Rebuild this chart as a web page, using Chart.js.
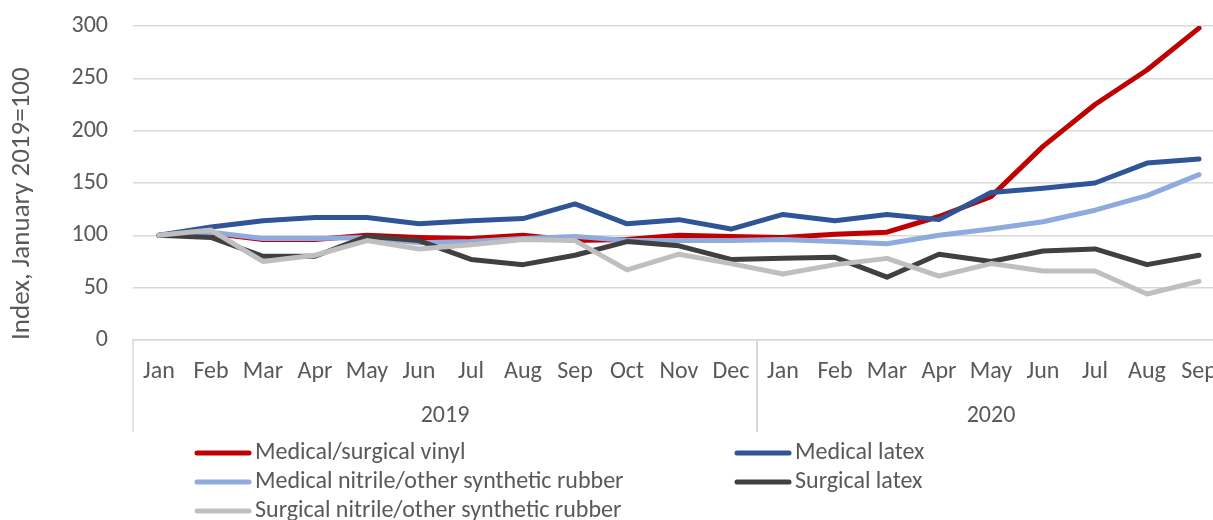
<!DOCTYPE html>
<html>
<head>
<meta charset="utf-8">
<script src="https://cdn.jsdelivr.net/npm/chart.js@4.4.1/dist/chart.umd.min.js"></script>
<style>
  html, body { margin: 0; padding: 0; background: #fff; overflow: hidden; }
  #wrap { position: relative; width: 1230px; height: 560px; }
</style>
</head>
<body>
<div id="wrap"><canvas id="glove-chart"></canvas></div>
<script>
// categorias (meses) e grupos de anos
const months = ["Jan", "Feb", "Mar", "Apr", "May", "Jun", "Jul", "Aug", "Sep", "Oct", "Nov", "Dec",
                "Jan", "Feb", "Mar", "Apr", "May", "Jun", "Jul", "Aug", "Sep"];
const years = ["2019", "2020"];
const yearCounts = [12, 9];

// series (indice, janeiro 2019 = 100)
const vinyl = [100, 102, 96, 96, 100, 98, 97, 100, 95, 96, 100, 99, 98, 101, 103, 118, 137, 185, 225, 258, 298];
const medLatex = [100, 108, 114, 117, 117, 111, 114, 116, 130, 111, 115, 106, 120, 114, 120, 115, 141, 145, 150, 169, 173];
const medNitrile = [100, 103, 97, 97, 98, 93, 94, 97, 99, 95, 95, 95, 96, 94, 92, 100, 106, 113, 124, 138, 158];
const surgLatex = [100, 98, 80, 80, 99, 95, 77, 72, 81, 94, 90, 77, 78, 79, 60, 82, 75, 85, 87, 72, 81];
const surgNitrile = [100, 105, 75, 81, 95, 87, 91, 96, 95, 67, 82, 73, 63, 72, 78, 61, 73, 66, 66, 44, 56];

const seriesNames = ["Medical/surgical vinyl", "Medical latex", "Medical nitrile/other synthetic rubber",
                     "Surgical latex", "Surgical nitrile/other synthetic rubber"];
const seriesColors = ["#C00000", "#2F5597", "#8FAADC", "#404040", "#BFBFBF"];
const yTicks = [0, 50, 100, 150, 200, 250, 300];

const fontFamily = "Carlito, 'Liberation Sans', sans-serif";
const fontSize = 24;
const textColor = "#595959";
const gridColor = "#D9D9D9";

// desenha os anos e as linhas de separação do eixo x
const yearAxisPlugin = {
  id: "yearAxis",
  afterDraw(chart) {
    const ctx = chart.ctx;
    const x = chart.scales.x;
    const top = chart.chartArea.bottom;
    const bottom = x.bottom;
    const half = (x.getPixelForValue(1) - x.getPixelForValue(0)) / 2;
    ctx.save();
    ctx.strokeStyle = gridColor;
    ctx.lineWidth = 1.5;
    ctx.fillStyle = textColor;
    ctx.font = fontSize + "px " + fontFamily;
    ctx.textAlign = "center";
    ctx.textBaseline = "middle";
    let start = 0;
    years.forEach((yr, i) => {
      const end = start + yearCounts[i] - 1;
      const left = x.getPixelForValue(start) - half;
      const right = x.getPixelForValue(end) + half;
      ctx.beginPath();
      ctx.moveTo(left, top);
      ctx.lineTo(left, bottom);
      ctx.moveTo(right, top);
      ctx.lineTo(right, bottom);
      ctx.stroke();
      ctx.fillText(yr, (left + right) / 2, top + 76);
      start = end + 1;
    });
    ctx.restore();
  }
};

// legenda em duas colunas
const legendPlugin = {
  id: "twoColLegend",
  afterDraw(chart) {
    const ctx = chart.ctx;
    const cols = [197, 737];
    const rows = [453, 482, 511];
    ctx.save();
    ctx.font = fontSize + "px " + fontFamily;
    ctx.textBaseline = "middle";
    ctx.textAlign = "left";
    ctx.lineCap = "round";
    ctx.lineWidth = 5;
    chart.data.datasets.forEach((ds, i) => {
      const cx = cols[i % 2];
      const cy = rows[Math.floor(i / 2)];
      ctx.strokeStyle = ds.borderColor;
      ctx.beginPath();
      ctx.moveTo(cx, cy);
      ctx.lineTo(cx + 52, cy);
      ctx.stroke();
      ctx.fillStyle = textColor;
      ctx.fillText(ds.label, cx + 58, cy);
    });
    ctx.restore();
  }
};

const allSeries = [vinyl, medLatex, medNitrile, surgLatex, surgNitrile];

const ctx = document.getElementById("glove-chart").getContext("2d");
new Chart(ctx, {
  type: "line",
  data: {
    labels: months,
    datasets: allSeries.map((values, i) => ({
      label: seriesNames[i],
      data: values,
      borderColor: seriesColors[i],
      backgroundColor: seriesColors[i],
      borderWidth: 5,
      pointRadius: 0,
      tension: 0,
      borderJoinStyle: "round",
      borderCapStyle: "round",
      order: allSeries.length - i // ultima serie por cima
    }))
  },
  options: {
    responsive: true,
    maintainAspectRatio: false,
    animation: false,
    layout: { padding: { top: 26, right: 5, bottom: 128, left: 0 } },
    scales: {
      x: {
        type: "category",
        offset: true,
        grid: { display: false, drawTicks: false },
        border: { display: true, color: gridColor, width: 1.5 },
        ticks: {
          color: textColor,
          font: { size: fontSize, family: fontFamily },
          padding: 18,
          maxRotation: 0,
          autoSkip: false
        },
        afterFit(scale) {
          scale.height = 92;
          scale.paddingLeft = 0;
          scale.paddingRight = 0;
        }
      },
      y: {
        min: 0,
        max: 300,
        afterBuildTicks(scale) { scale.ticks = yTicks.map(v => ({ value: v })); },
        grid: { color: gridColor, lineWidth: 1.5, drawTicks: false },
        border: { display: false },
        ticks: {
          color: textColor,
          font: { size: fontSize, family: fontFamily },
          padding: 25
        },
        title: {
          display: true,
          text: "Index, January 2019=100",
          color: textColor,
          align: "start",
          font: { size: 27, family: fontFamily },
          padding: { top: 6, bottom: 0 }
        },
        afterFit(scale) {
          scale.width = 133;
          scale.paddingTop = 0;
          scale.paddingBottom = 0;
        }
      }
    },
    plugins: {
      legend: { display: false },
      tooltip: { enabled: false }
    }
  },
  plugins: [yearAxisPlugin, legendPlugin]
});
</script>
</body>
</html>
